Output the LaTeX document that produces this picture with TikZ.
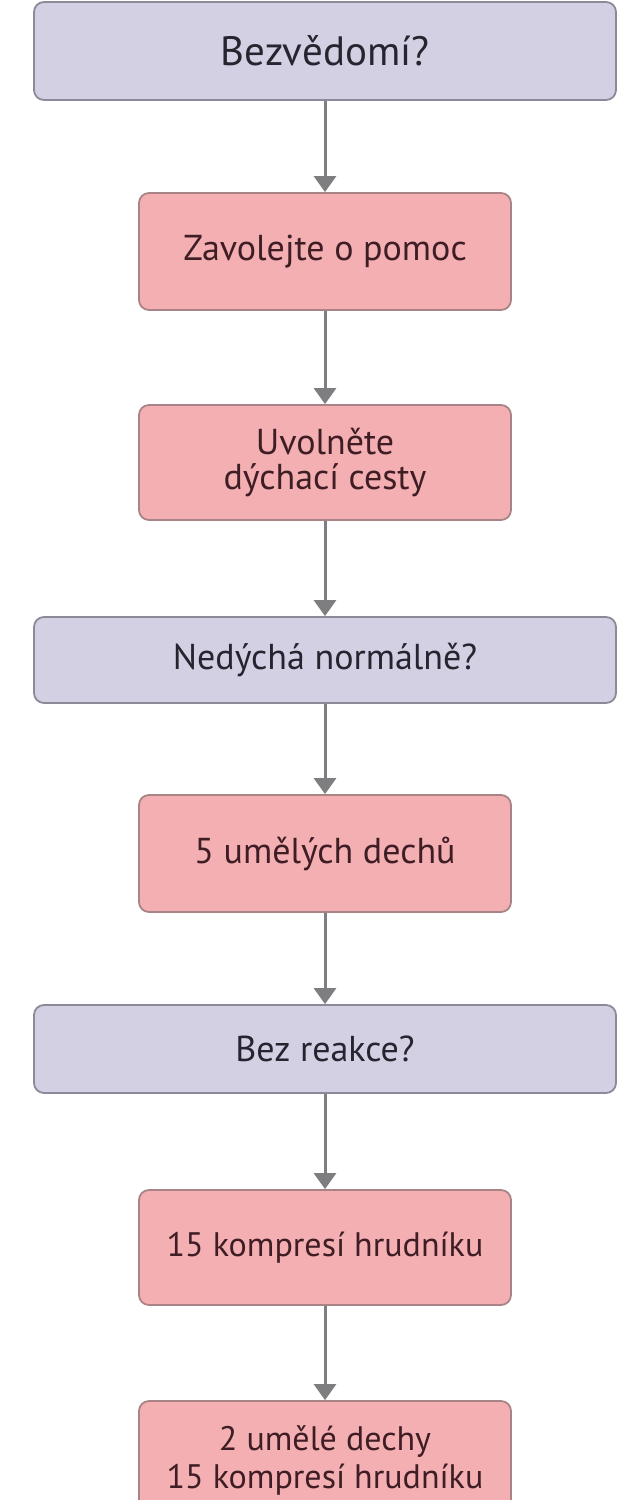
\documentclass[tikz,border=0pt]{standalone}
\usepackage{fontspec}
\setmainfont{PT Sans}
\usetikzlibrary{arrows.meta}
\definecolor{qfill}{HTML}{D4D0E4}
\definecolor{qdraw}{HTML}{8C8A98}
\definecolor{qtext}{HTML}{26242E}
\definecolor{afill}{HTML}{F4AFB3}
\definecolor{adraw}{HTML}{A88486}
\definecolor{atext}{HTML}{3E1E24}
\definecolor{arr}{HTML}{7E7E80}
\tikzset{
  qbox/.style={draw=qdraw, fill=qfill, line width=1.8pt, rounded corners=10pt,
    minimum width=582pt, text=qtext, align=center, inner sep=0pt, font=\fontsize{36}{40}\selectfont},
  abox/.style={draw=adraw, fill=afill, line width=1.8pt, rounded corners=10pt,
    minimum width=372pt, text=atext, align=center, inner sep=0pt, font=\fontsize{36}{40}\selectfont},
  flow/.style={draw=arr, line width=3pt, -{Triangle[width=22pt,length=16pt]}}
}
\begin{document}
\begin{tikzpicture}[x=1pt,y=1pt]
\useasboundingbox (0,0) rectangle (626,-1500);
\clip (0,0) rectangle (626,-1500);
\fill[white] (0,0) rectangle (626,-1500);
\node[qbox, minimum height=98pt, font=\fontsize{41}{46}\selectfont] (b1) at (325,-51) {Bezvědomí?};
\node[abox, minimum height=117pt] (b2) at (325,-251.5) {Zavolejte o pomoc};
\node[abox, minimum height=115pt, font=\fontsize{36}{35}\selectfont] (b3) at (325,-462.5) {Uvolněte\\dýchací cesty};
\node[qbox, minimum height=86pt] (b4) at (325,-660) {Nedýchá normálně?};
\node[abox, minimum height=117pt] (b5) at (325,-853.5) {5 umělých dechů};
\node[qbox, minimum height=88pt] (b6) at (325,-1049) {Bez reakce?};
\node[abox, minimum height=115pt, font=\fontsize{34}{40}\selectfont] (b7) at (325,-1247.5) {15 kompresí hrudníku};
\node[abox, minimum height=118pt, font=\fontsize{34}{38}\selectfont] (b8) at (325,-1460) {2 umělé dechy\\15 kompresí hrudníku};
\draw[flow] (b1.south) -- (b2.north);
\draw[flow] (b2.south) -- (b3.north);
\draw[flow] (b3.south) -- (b4.north);
\draw[flow] (b4.south) -- (b5.north);
\draw[flow] (b5.south) -- (b6.north);
\draw[flow] (b6.south) -- (b7.north);
\draw[flow] (b7.south) -- (b8.north);
\end{tikzpicture}
\end{document}
